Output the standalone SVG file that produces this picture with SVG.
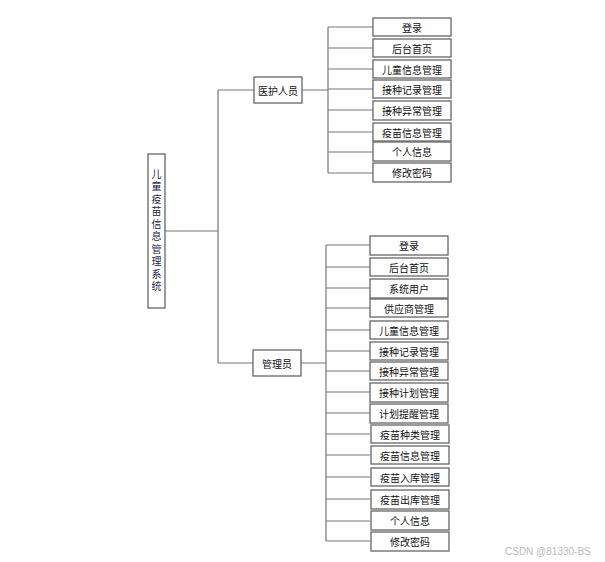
<svg xmlns="http://www.w3.org/2000/svg" width="605" height="562" viewBox="0 0 605 562">
<style>
.box{fill:#fff;stroke:#666;stroke-width:1.3}
.t{font-family:"Noto Sans CJK SC","Liberation Sans",sans-serif;font-size:10px;fill:#111;text-anchor:middle;dominant-baseline:central}
.v{font-family:"Noto Sans CJK SC","Liberation Sans",sans-serif;font-size:10px;fill:#1f2350;writing-mode:vertical-rl;letter-spacing:2.5px}
.c{fill:none;stroke:#777;stroke-width:1.2}
.wm{font-family:"Liberation Sans",sans-serif;font-size:10px;fill:#bbb}
</style>
<rect width="605" height="562" fill="#fff"/>
<g id="connectors">
<path class="c" d="M165 231H218M218 90V363M218 90H254M218 363H253"/>
<path class="c" d="M302 90H328M328 27V173M328 27H373M328 48H373M328 69H373M328 89H373M328 110H373M328 132H373M328 152H373M328 173H373"/>
<path class="c" d="M301 363H326M326 245V541M326 245H370M326 267H370M326 288H370M326 308H370M326 330H370M326 351H370M326 371H370M326 392H370M326 413H370M326 434H370M326 455H370M326 477H370M326 499H370M326 521H370M326 541H370"/>
</g>
<g id="root"><rect class="box" x="148" y="154" width="17" height="154"/>
<text class="v" x="156.5" y="169">儿童疫苗信息管理系统</text></g>
<g id="medical"><rect class="box" x="254" y="77" width="48" height="26"/><text class="t" x="278" y="90">医护人员</text></g>
<g id="admin"><rect class="box" x="253" y="350" width="48" height="26"/><text class="t" x="277" y="363">管理员</text></g>
<g id="m1"><rect class="box" x="373" y="18" width="78" height="18"/><text class="t" x="412" y="27">登录</text></g>
<g id="m2"><rect class="box" x="373" y="39" width="78" height="18"/><text class="t" x="412" y="48">后台首页</text></g>
<g id="m3"><rect class="box" x="373" y="60" width="78" height="18"/><text class="t" x="412" y="69">儿童信息管理</text></g>
<g id="m4"><rect class="box" x="373" y="80" width="78" height="18"/><text class="t" x="412" y="89">接种记录管理</text></g>
<g id="m5"><rect class="box" x="373" y="101" width="78" height="19"/><text class="t" x="412" y="110.5">接种异常管理</text></g>
<g id="m6"><rect class="box" x="373" y="123" width="78" height="18"/><text class="t" x="412" y="132">疫苗信息管理</text></g>
<g id="m7"><rect class="box" x="373" y="142" width="78" height="19"/><text class="t" x="412" y="151.5">个人信息</text></g>
<g id="m8"><rect class="box" x="373" y="163" width="78" height="19"/><text class="t" x="412" y="172.5">修改密码</text></g>
<g id="a1"><rect class="box" x="370" y="236" width="78" height="19"/><text class="t" x="409" y="245.5">登录</text></g>
<g id="a2"><rect class="box" x="370" y="258" width="78" height="18"/><text class="t" x="409" y="267">后台首页</text></g>
<g id="a3"><rect class="box" x="370" y="279" width="78" height="19"/><text class="t" x="409" y="288.5">系统用户</text></g>
<g id="a4"><rect class="box" x="370" y="299" width="78" height="18"/><text class="t" x="409" y="308">供应商管理</text></g>
<g id="a5"><rect class="box" x="370" y="321" width="78" height="18"/><text class="t" x="409" y="330">儿童信息管理</text></g>
<g id="a6"><rect class="box" x="370" y="342" width="78" height="18"/><text class="t" x="409" y="351">接种记录管理</text></g>
<g id="a7"><rect class="box" x="370" y="362" width="78" height="18"/><text class="t" x="409" y="371">接种异常管理</text></g>
<g id="a8"><rect class="box" x="370" y="383" width="78" height="19"/><text class="t" x="409" y="392.5">接种计划管理</text></g>
<g id="a9"><rect class="box" x="370" y="404" width="78" height="19"/><text class="t" x="409" y="413.5">计划提醒管理</text></g>
<g id="a10"><rect class="box" x="371" y="425" width="78" height="18"/><text class="t" x="410" y="434">疫苗种类管理</text></g>
<g id="a11"><rect class="box" x="371" y="446" width="78" height="18"/><text class="t" x="410" y="455">疫苗信息管理</text></g>
<g id="a12"><rect class="box" x="371" y="468" width="78" height="18"/><text class="t" x="410" y="477">疫苗入库管理</text></g>
<g id="a13"><rect class="box" x="371" y="490" width="78" height="19"/><text class="t" x="410" y="499.5">疫苗出库管理</text></g>
<g id="a14"><rect class="box" x="371" y="511" width="78" height="19"/><text class="t" x="410" y="520.5">个人信息</text></g>
<g id="a15"><rect class="box" x="371" y="532" width="78" height="19"/><text class="t" x="410" y="541.5">修改密码</text></g>
<text class="wm" x="505" y="555">CSDN @81330-BS</text>
</svg>
